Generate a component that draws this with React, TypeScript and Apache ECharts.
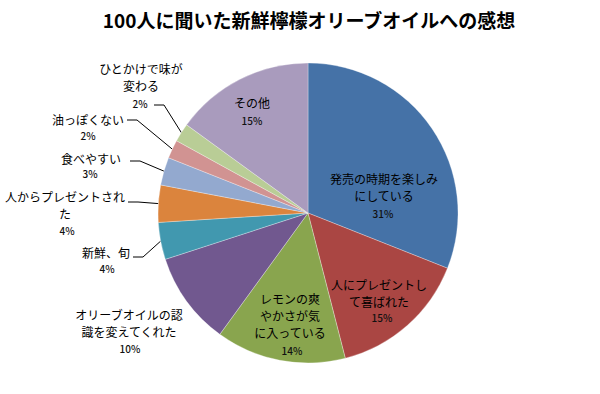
import React, { useEffect, useRef } from "react";
import * as echarts from "echarts";

const titleText = "100人に聞いた新鮮檸檬オリーブオイルへの感想";

const categories = [
  "発売の時期を楽しみにしている",
  "人にプレゼントして喜ばれた",
  "レモンの爽やかさが気に入っている",
  "オリーブオイルの認識を変えてくれた",
  "新鮮、旬",
  "人からプレゼントされた",
  "食べやすい",
  "油っぽくない",
  "ひとかけで味が変わる",
  "その他",
];
const shares = [31, 15, 14, 10, 4, 4, 3, 2, 2, 15];

const colors = [
  "#4572A7", "#AA4643", "#89A54E", "#71588F", "#4198AF",
  "#DB843D", "#93A9CF", "#D19392", "#B9CD96", "#A99BBD",
];

// layout helpers (not data)
const breaks: number[][] = [[9], [8], [5, 10], [9], [], [10], [], [], [7], []];
const nameCenters = [
  [384, 187], [379, 293], [290, 315], [129, 323], [106, 252],
  [65, 205], [91, 158], [88, 119], [141, 77], [252, 102],
];
const pctCenters = [
  [383, 213], [382, 317], [292, 350], [130, 348], [107, 268],
  [67, 230], [90, 173], [88, 135], [140, 103], [252, 120],
];
const leaderEnds: (number[] | null)[] = [
  null, null, null, null, [133, 257], [128, 202], [130, 161], [127, 120], [154, 105], null,
];

const FONT = '"Noto Sans CJK JP", "Noto Sans", sans-serif';

function wrapLines(name: string, b: number[]): string {
  const chars = Array.from(name);
  const out: string[] = [];
  let start = 0;
  for (const pos of b) {
    out.push(chars.slice(start, pos).join(""));
    start = pos;
  }
  out.push(chars.slice(start).join(""));
  return out.join("\n");
}

export default function App() {
  const ref = useRef<HTMLDivElement>(null);
  useEffect(() => {
    if (!ref.current) return;
    const chart = echarts.init(ref.current, undefined, { renderer: "svg" });
    const nameData = categories.map((name, i) => ({
      name,
      value: shares[i],
      itemStyle: { color: colors[i] },
    }));
    const pctData = categories.map((name, i) => ({
      name,
      value: shares[i],
      label: { position: leaderEnds[i] ? "outside" : "inside" },
      labelLine: { show: !!leaderEnds[i] },
    }));
    const base = {
      type: "pie",
      center: [308, 213],
      radius: [0, 150],
      startAngle: 90,
      clockwise: true,
      avoidLabelOverlap: false,
      emphasis: { disabled: true },
    };
    chart.setOption({
      animation: false,
      backgroundColor: "#ffffff",
      textStyle: { fontFamily: FONT },
      graphic: [
        {
          type: "text",
          x: 309,
          y: 19,
          style: {
            text: titleText,
            fill: "#000",
            font: `bold 19px ${FONT}`,
            textAlign: "center",
            textVerticalAlign: "middle",
          },
        },
      ],
      series: [
        {
          ...base,
          itemStyle: { borderColor: "rgba(255,255,255,0.5)", borderWidth: 0.6 },
          label: {
            show: true,
            position: "inside",
            overflow: "none",
            fontSize: 12,
            lineHeight: 17,
            color: "#000",
            fontFamily: FONT,
            formatter: (p: any) => wrapLines(p.name, breaks[p.dataIndex]),
          },
          labelLine: { show: false },
          labelLayout: (params: any) => {
            const [x, y] = nameCenters[params.dataIndex];
            return { x, y, align: "center", verticalAlign: "middle" };
          },
          data: nameData,
        },
        {
          ...base,
          silent: true,
          itemStyle: { color: "rgba(0,0,0,0)", borderWidth: 0 },
          label: {
            show: true,
            overflow: "none",
            fontSize: 10,
            lineHeight: 11,
            color: "#111",
            fontWeight: 500,
            fontFamily: FONT,
            formatter: (p: any) => `${Math.round(p.percent)}%`,
          },
          labelLine: { lineStyle: { color: "#000", width: 1 } },
          labelLayout: (params: any) => {
            const i = params.dataIndex;
            const [x, y] = pctCenters[i];
            const res: any = { x, y, align: "center", verticalAlign: "middle" };
            const e = leaderEnds[i];
            if (e && params.labelLinePoints) {
              res.labelLinePoints = [params.labelLinePoints[0], [e[0] + 10, e[1]], [e[0], e[1]]];
            }
            return res;
          },
          data: pctData,
        },
      ],
    });
    return () => chart.dispose();
  }, []);
  return (
    <div
      ref={ref}
      style={{ position: "fixed", left: 0, top: 0, width: 600, height: 394, background: "#fff" }}
    />
  );
}
